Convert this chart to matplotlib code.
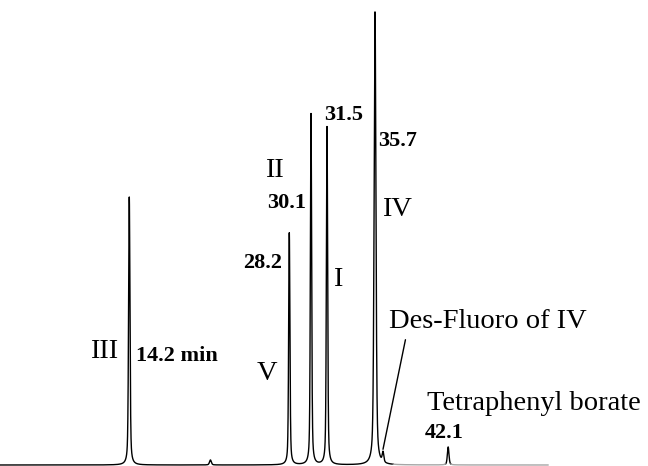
import numpy as np
import matplotlib
matplotlib.use("Agg")
import matplotlib.pyplot as plt

# retention times (min) and peak heights (detector units)
peak_times = [14.2, 21.3, 28.2, 30.1, 31.5, 35.7, 36.4, 42.1]
peak_heights = [268, 5, 232, 351, 338, 453, 10, 18]
peak_widths = [0.06, 0.08, 0.055, 0.055, 0.055, 0.08, 0.07, 0.07]

compound_labels = ["III", "V", "II", "I", "IV"]
time_labels = ["14.2 min", "28.2", "30.1", "31.5", "35.7", "42.1"]

W, H = 648, 466
t0, px_per_min = 2.89, 11.43
t1 = t0 + W / px_per_min

fig = plt.figure(figsize=(W / 100, H / 100), dpi=100)
ax = fig.add_axes([0, 0, 1, 1])
ax.set_xlim(t0, t1)
ax.set_ylim(-1, H - 1)
ax.axis("off")

t = np.linspace(t0, t0 + 548 / px_per_min, 40000)
y = np.zeros_like(t)
for tp, hp, sp in zip(peak_times, peak_heights, peak_widths):
    g = np.exp(-0.5 * ((t - tp) / sp) ** 2)
    lor = 1 / (1 + ((t - tp) / (1.2 * sp)) ** 2)
    y += hp * (0.55 * g + 0.45 * lor)

dark = (t < 37.3) | (y > 1.0)
ax.plot(t, np.where(dark, y, np.nan), color="black", lw=1.0)
ax.plot(t, np.where(~dark, y, np.nan), color="0.65", lw=1.0)


def px(x, yy):
    # pixel (from top-left) -> figure fraction
    return x / W, 1 - yy / H


serif = dict(family="Liberation Serif", fontsize=20.5, color="black")
bold = dict(family="Liberation Serif", fontsize=16, fontweight="bold", color="black")

# compound names: (label, left, baseline)
for lab, (x, yy) in zip(compound_labels,
                        [(90, 358), (257, 380), (265, 177), (333, 286), (382, 216)]):
    fig.text(*px(x, yy), lab, ha="left", va="baseline", **serif)

for lab, (x, yy) in zip(time_labels,
                        [(136, 361), (243, 268), (267, 208), (324, 120),
                         (378, 146), (425, 438)]):
    fig.text(*px(x, yy), lab, ha="left", va="baseline", **bold)

fig.text(*px(389, 328), "Des-Fluoro of IV", ha="left", va="baseline", **serif)
fig.text(*px(427, 410), "Tetraphenyl borate", ha="left", va="baseline", **serif)

# pointer line to des-fluoro peak
ax.annotate("", xy=(peak_times[6] - 0.05, peak_heights[6] + 3),
            xytext=px(406, 337), textcoords="figure fraction",
            arrowprops=dict(arrowstyle="-", color="black", lw=1.0))

fig.savefig("out.png", dpi=100)
